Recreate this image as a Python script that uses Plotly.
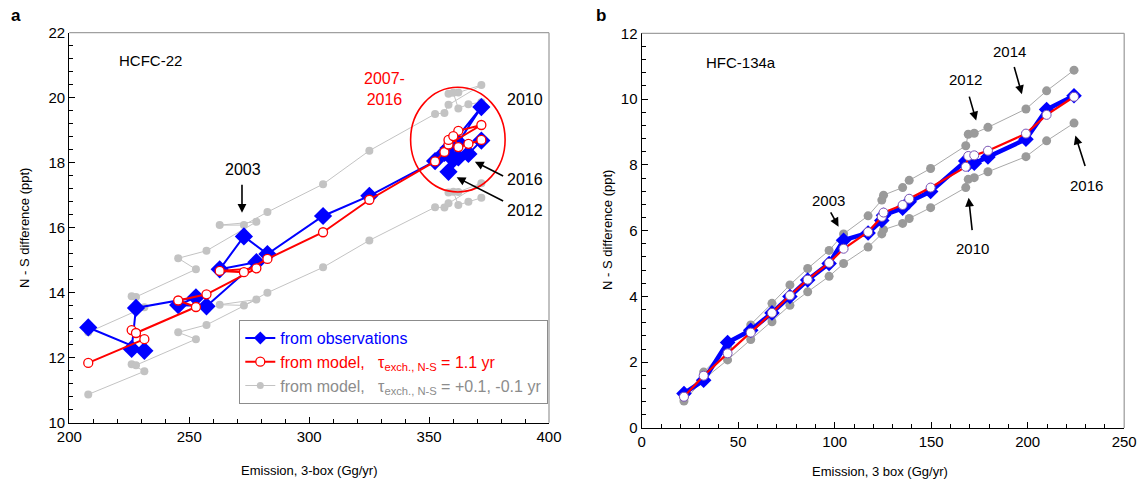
import plotly.graph_objects as go

# ---------------- Panel a : HCFC-22 (years 1994-2016) ----------------
a_emis = [207.9, 231.3, 226.0, 227.8, 252.8, 245.4, 257.2, 278.0, 262.7, 272.8, 282.6,
          305.8, 325.1, 352.5, 356.4, 358.1, 371.8, 362.2, 358.1, 360.1, 362.2, 366.4, 371.8]
a_obs = [12.93, 12.21, 12.27, 13.53, 13.86, 13.62, 13.58, 14.94, 14.72, 15.73, 15.19,
         16.36, 16.98, 18.05, 18.30, 18.45, 19.71, 18.62, 17.72, 18.10, 18.16, 18.27, 18.68]
a_model = [11.84, 12.57, 12.85, 12.76, 13.56, 13.76, 13.95, 14.75, 14.67, 14.63, 15.04,
           15.86, 16.86, 18.04, 18.33, 18.56, 19.16, 18.98, 18.70, 18.82, 18.48, 18.58, 18.70]
a_up = [12.78, 13.55, 13.89, 13.87, 14.72, 15.06, 15.29, 16.18, 16.08, 16.08, 16.48,
        17.34, 18.37, 19.50, 19.53, 19.78, 20.39, 20.16, 20.12, 20.15, 19.67, 19.80, 19.86]
a_lo = [10.87, 11.58, 11.80, 11.77, 12.57, 12.78, 13.01, 13.79, 13.63, 13.61, 14.00,
        14.78, 15.61, 16.63, 16.62, 16.75, 17.37, 17.10, 17.08, 17.11, 16.70, 16.80, 16.92]

# ---------------- Panel b : HFC-134a (years 1995-2016) ----------------
b_emis = [21.9, 32.1, 44.5, 56.5, 67.5, 76.8, 86.0, 97.1, 104.6, 117.3, 124.4,
          125.3, 135.2, 138.6, 149.7, 167.9, 169.2, 172.3, 179.4, 199.1, 209.8, 224.0]
b_obs = [1.05, 1.45, 2.60, 2.97, 3.50, 4.00, 4.50, 5.00, 5.71, 5.93, 6.31,
         6.47, 6.68, 6.88, 7.19, 8.12, 8.02, 8.05, 8.24, 8.78, 9.68, 10.10]
b_model = [0.95, 1.59, 2.27, 2.90, 3.50, 4.03, 4.51, 5.02, 5.45, 5.96, 6.42,
           6.55, 6.78, 6.97, 7.31, 7.94, 8.27, 8.29, 8.43, 8.95, 9.52, 10.07]
b_up = [0.92, 1.70, 2.44, 3.13, 3.79, 4.35, 4.85, 5.40, 5.90, 6.45, 6.93,
        7.08, 7.31, 7.53, 7.89, 8.58, 8.93, 8.96, 9.14, 9.70, 10.25, 10.88]
b_lo = [0.82, 1.48, 2.07, 2.69, 3.23, 3.73, 4.14, 4.61, 5.00, 5.50, 5.90,
        6.03, 6.22, 6.37, 6.70, 7.31, 7.56, 7.61, 7.79, 8.25, 8.73, 9.27]

legend_labels = [
    "<span style='color:#0000ff'>from observations</span>",
    "<span style='color:#ff0000'>from model,&nbsp;&nbsp;&nbsp;τ<sub>exch., N-S</sub> = 1.1 yr</span>",
    "<span style='color:#8c8c8c'>from model,&nbsp;&nbsp;&nbsp;τ<sub>exch., N-S</sub> = +0.1, -0.1 yr</span>",
]

FONT = "Liberation Sans, Arial, sans-serif"
BLUE = "#0000ff"
RED = "#ff0000"
GRAY_A = "#c3c3c3"
GRAY_B = "#9a9a9a"

fig = go.Figure()

# panel a traces
for yy in (a_up, a_lo):
    fig.add_trace(go.Scatter(x=a_emis, y=yy, mode="lines+markers", xaxis="x", yaxis="y",
                             line=dict(color=GRAY_A, width=1), marker=dict(color=GRAY_A, size=8),
                             showlegend=False))
fig.add_trace(go.Scatter(x=a_emis, y=a_obs, mode="lines+markers", xaxis="x", yaxis="y",
                         line=dict(color=BLUE, width=2),
                         marker=dict(symbol="diamond", color=BLUE, size=14), showlegend=False))
fig.add_trace(go.Scatter(x=a_emis, y=a_model, mode="lines+markers", xaxis="x", yaxis="y",
                         line=dict(color=RED, width=2),
                         marker=dict(symbol="circle", color="white", size=9,
                                     line=dict(color=RED, width=1.3)), showlegend=False))

# legend entries (no data drawn)
fig.add_trace(go.Scatter(x=[None], y=[None], mode="lines+markers", xaxis="x", yaxis="y",
                         line=dict(color=BLUE, width=2),
                         marker=dict(symbol="diamond", color=BLUE, size=10),
                         name=legend_labels[0]))
fig.add_trace(go.Scatter(x=[None], y=[None], mode="lines+markers", xaxis="x", yaxis="y",
                         line=dict(color=RED, width=2),
                         marker=dict(symbol="circle", color="white", size=9,
                                     line=dict(color=RED, width=1.3)),
                         name=legend_labels[1]))
fig.add_trace(go.Scatter(x=[None], y=[None], mode="lines+markers", xaxis="x", yaxis="y",
                         line=dict(color=GRAY_A, width=1), marker=dict(color=GRAY_A, size=7),
                         name=legend_labels[2]))

# panel b traces
for yy in (b_up, b_lo):
    fig.add_trace(go.Scatter(x=b_emis, y=yy, mode="lines+markers", xaxis="x2", yaxis="y2",
                             line=dict(color="#a8a8a8", width=1),
                             marker=dict(color=GRAY_B, size=9), showlegend=False))
fig.add_trace(go.Scatter(x=b_emis, y=b_obs, mode="lines+markers", xaxis="x2", yaxis="y2",
                         line=dict(color=BLUE, width=4.5),
                         marker=dict(symbol="diamond", color=BLUE, size=12), showlegend=False))
fig.add_trace(go.Scatter(x=b_emis, y=b_model, mode="lines+markers", xaxis="x2", yaxis="y2",
                         line=dict(color=RED, width=2.2),
                         marker=dict(symbol="circle", color="white", size=9,
                                     line=dict(color="#7a55b5", width=1)),
                         showlegend=False))

W, H = 1141, 486
def fx(px):
    return px / W
def fy(py):
    return 1 - py / H

def axis(domain, rng, tickvals, mdtick, anchor):
    return dict(domain=domain, range=rng, tickvals=tickvals, anchor=anchor, automargin=False,
                showgrid=False, zeroline=False, showline=True, linecolor="black", linewidth=1.3,
                ticks="inside", ticklen=6, tickwidth=1, tickcolor="black",
                tickfont=dict(family=FONT, size=15, color="black"),
                minor=dict(ticks="inside", ticklen=4, tickwidth=1, tickcolor="black",
                           dtick=mdtick, tick0=rng[0]))

fig.update_layout(
    width=W, height=H, margin=dict(l=0, r=0, t=0, b=0, autoexpand=False),
    paper_bgcolor="white", plot_bgcolor="white",
    font=dict(family=FONT, size=14, color="black"),
    xaxis=axis([fx(69.3), fx(549)], [200, 400], [200, 250, 300, 350, 400], 10, "y"),
    yaxis=axis([fy(422.7), fy(32.7)], [10, 22], [10, 12, 14, 16, 18, 20, 22], 0.4, "x"),
    xaxis2=axis([fx(641.7), fx(1124.2)], [0, 250], [0, 50, 100, 150, 200, 250], 10, "y2"),
    yaxis2=axis([fy(428), fy(33.3)], [0, 12], [0, 2, 4, 6, 8, 10, 12], 0.4, "x2"),
    legend=dict(x=fx(548.3), xanchor="right", y=fy(404), yanchor="bottom",
                bgcolor="white", bordercolor="#8c8c8c", borderwidth=1,
                font=dict(family=FONT, size=16), itemwidth=30, tracegroupgap=0),
)

shapes = []
for xr, yr in (("x domain", "y domain"), ("x2 domain", "y2 domain")):
    shapes.append(dict(type="line", xref=xr, yref=yr, x0=0, x1=1, y0=1, y1=1,
                       line=dict(color="#a0a0a0", width=1.3)))
    shapes.append(dict(type="line", xref=xr, yref=yr, x0=1, x1=1, y0=0, y1=1,
                       line=dict(color="#a0a0a0", width=1.3)))
shapes.append(dict(type="circle", xref="x", yref="y", x0=342.3, x1=381.7, y0=17.1, y1=20.32,
                   line=dict(color=RED, width=1.6)))
fig.update_layout(shapes=shapes)

ann = []
def txt(x, y, s, xr="x", yr="y", size=16, color="black", xanchor="center", **kw):
    ann.append(dict(x=x, y=y, xref=xr, yref=yr, text=s, showarrow=False,
                    font=dict(family=FONT, size=size, color=color), xanchor=xanchor,
                    yanchor="middle", **kw))
def arrow(x0, y0, x1, y1, xr="x", yr="y"):
    ann.append(dict(x=x1, y=y1, ax=x0, ay=y0, xref=xr, yref=yr, axref=xr, ayref=yr,
                    text="", showarrow=True, arrowhead=2, arrowsize=1.1, arrowwidth=1.6,
                    arrowcolor="black"))

# panel a annotations
txt(219.8, 21.16, "HCFC-22", size=15, xanchor="left")
txt(331.6, 20.26, "2007-<br>2016", size=16, color=RED)
txt(390.0, 19.93, "2010")
txt(390.0, 17.47, "2016")
txt(390.0, 16.54, "2012")
txt(272.5, 17.78, "2003")
arrow(272.0, 17.37, 272.0, 16.46)
arrow(381.5, 17.57, 369.1, 18.03)
arrow(381.5, 16.80, 361.5, 17.55)

# panel b annotations
txt(32.1, 11.1, "HFC-134a", xr="x2", yr="y2", size=15, xanchor="left")
txt(96.8, 6.93, "2003", xr="x2", yr="y2", size=15)
arrow(97.5, 6.6, 102.0, 6.12, "x2", "y2")
txt(171.5, 5.47, "2010", xr="x2", yr="y2", size=15)
arrow(171.3, 5.97, 169.4, 7.0, "x2", "y2")
txt(167.8, 10.6, "2012", xr="x2", yr="y2", size=15)
arrow(169.5, 10.12, 173.3, 9.35, "x2", "y2")
txt(190.8, 11.46, "2014", xr="x2", yr="y2", size=15)
arrow(192.8, 11.02, 197.0, 10.15, "x2", "y2")
txt(230.3, 7.36, "2016", xr="x2", yr="y2", size=15)
arrow(230.0, 7.92, 224.7, 8.89, "x2", "y2")

# axis titles and panel letters (paper coordinates)
txt(fx(24), fy(228), "N - S difference (ppt)", xr="paper", yr="paper", size=13, textangle=-90)
txt(fx(309), fy(470), "Emission, 3-box (Gg/yr)", xr="paper", yr="paper", size=13)
txt(fx(608), fy(230), "N - S difference (ppt)", xr="paper", yr="paper", size=13, textangle=-90)
txt(fx(880), fy(471), "Emission, 3 box (Gg/yr)", xr="paper", yr="paper", size=13)
txt(fx(16), fy(15), "<b>a</b>", xr="paper", yr="paper", size=17)
txt(fx(601), fy(15), "<b>b</b>", xr="paper", yr="paper", size=17)

fig.update_layout(annotations=ann)
fig.write_html("out.html", config={"displayModeBar": False},
               post_script="document.body.style.margin='0';document.body.style.overflow='hidden';")
